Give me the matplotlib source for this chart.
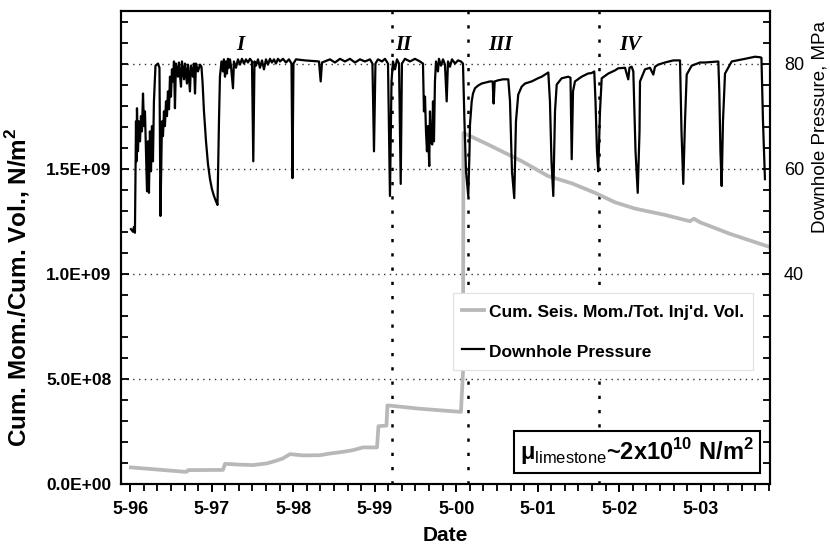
import matplotlib
matplotlib.use("Agg")
import matplotlib.pyplot as plt
from matplotlib import font_manager
from matplotlib.ticker import MultipleLocator

# ---------------- data (decimal years) ----------------
press_t = [1996.342, 1996.367, 1996.379, 1996.391, 1996.404, 1996.410, 1996.416, 1996.428, 1996.440, 1996.453,
           1996.465, 1996.477, 1996.490, 1996.502, 1996.514, 1996.526, 1996.539, 1996.551, 1996.563, 1996.575,
           1996.588, 1996.600, 1996.612, 1996.624, 1996.643, 1996.674, 1996.692, 1996.704, 1996.717, 1996.723,
           1996.735, 1996.747, 1996.759, 1996.772, 1996.784, 1996.796, 1996.809, 1996.821, 1996.833, 1996.845,
           1996.858, 1996.870, 1996.882, 1996.894, 1996.919, 1996.931, 1996.956, 1996.968, 1996.993, 1997.005,
           1997.029, 1997.042, 1997.066, 1997.078, 1997.103, 1997.115, 1997.128, 1997.140, 1997.164, 1997.189,
           1997.207, 1997.220, 1997.238, 1997.263, 1997.287, 1997.312, 1997.336, 1997.361, 1997.385, 1997.404,
           1997.422, 1997.434, 1997.453, 1997.471, 1997.483, 1997.496, 1997.508, 1997.520, 1997.532, 1997.545,
           1997.557, 1997.569, 1997.594, 1997.606, 1997.631, 1997.655, 1997.680, 1997.704, 1997.729, 1997.753,
           1997.778, 1997.802, 1997.827, 1997.843, 1997.858, 1997.876, 1997.901, 1997.925, 1997.950, 1997.974,
           1997.999, 1998.023, 1998.048, 1998.072, 1998.097, 1998.121, 1998.146, 1998.171, 1998.207, 1998.244,
           1998.281, 1998.312, 1998.324, 1998.336, 1998.367, 1998.477, 1998.649, 1998.670, 1998.686, 1998.784,
           1998.845, 1998.907, 1998.968, 1999.029, 1999.091, 1999.152, 1999.213, 1999.275, 1999.305, 1999.324,
           1999.342, 1999.373, 1999.422, 1999.459, 1999.496, 1999.520, 1999.539, 1999.557, 1999.582, 1999.606,
           1999.631, 1999.652, 1999.667, 1999.704, 1999.766, 1999.827, 1999.888, 1999.925, 1999.937, 1999.950,
           1999.962, 1999.974, 1999.986, 2000.002, 2000.011, 2000.023, 2000.039, 2000.048, 2000.060, 2000.072,
           2000.085, 2000.109, 2000.121, 2000.146, 2000.171, 2000.195, 2000.216, 2000.232, 2000.256, 2000.281,
           2000.318, 2000.355, 2000.391, 2000.416, 2000.434, 2000.453, 2000.481, 2000.496, 2000.502, 2000.523,
           2000.539, 2000.563, 2000.600, 2000.645, 2000.698, 2000.747, 2000.780, 2000.792, 2000.805, 2000.845,
           2000.907, 2000.972, 2000.993, 2001.017, 2001.045, 2001.066, 2001.094, 2001.136, 2001.177, 2001.259,
           2001.336, 2001.382, 2001.422, 2001.463, 2001.483, 2001.502, 2001.524, 2001.545, 2001.566, 2001.627,
           2001.708, 2001.735, 2001.750, 2001.766, 2001.790, 2001.872, 2001.950, 2001.995, 2002.027, 2002.042,
           2002.060, 2002.076, 2002.097, 2002.118, 2002.199, 2002.281, 2002.321, 2002.404, 2002.444, 2002.459,
           2002.486, 2002.506, 2002.533, 2002.560, 2002.582, 2002.588, 2002.649, 2002.710, 2002.751, 2002.772,
           2002.812, 2002.894, 2002.997, 2003.079, 2003.097, 2003.119, 2003.140, 2003.161, 2003.222, 2003.324,
           2003.385, 2003.549, 2003.561, 2003.575, 2003.590, 2003.606, 2003.631, 2003.713, 2003.876, 2003.999,
           2004.060, 2004.078, 2004.097, 2004.121]
press_p = [48.5, 48.0, 48.9, 47.8, 69.0, 61.4, 71.5, 63.3, 69.0, 65.2,
           70.0, 67.1, 74.3, 68.1, 70.9, 63.3, 55.7, 65.2, 55.4, 67.1,
           59.5, 68.1, 61.4, 72.8, 79.6, 80.0, 79.2, 51.0, 63.3, 69.0,
           66.2, 70.9, 68.1, 72.8, 70.0, 74.7, 71.3, 77.5, 73.7, 78.9,
           76.6, 80.4, 71.5, 80.0, 77.5, 80.2, 75.6, 80.4, 77.0, 80.0,
           76.2, 79.8, 74.7, 79.6, 77.5, 80.0, 74.3, 80.0, 78.5, 79.8,
           79.4, 76.6, 70.9, 65.2, 60.9, 58.0, 56.1, 54.8, 53.8, 53.1,
           69.0, 77.5, 80.4, 78.5, 80.8, 77.5, 80.4, 78.1, 80.9, 79.2,
           80.8, 79.6, 75.3, 80.4, 79.2, 80.8, 79.8, 80.9, 80.0, 80.8,
           80.2, 80.9, 80.4, 61.4, 80.4, 79.6, 80.8, 79.2, 80.6, 78.9,
           80.8, 79.8, 80.9, 80.2, 80.8, 80.0, 80.9, 80.4, 80.9, 80.2,
           80.8, 80.0, 58.2, 80.0, 80.8, 80.6, 80.4, 76.6, 80.2, 80.8,
           80.2, 80.9, 80.4, 80.9, 80.2, 80.8, 80.4, 80.8, 80.0, 63.3,
           80.0, 80.8, 80.4, 80.9, 80.0, 54.8, 76.6, 80.4, 78.9, 80.8,
           80.0, 57.1, 80.0, 80.9, 80.4, 80.9, 80.4, 80.0, 70.9, 73.7,
           67.1, 63.3, 68.1, 60.5, 70.9, 65.2, 64.6, 72.8, 65.2, 76.6,
           80.4, 78.5, 80.9, 79.6, 80.8, 79.8, 72.8, 80.4, 79.4, 80.8,
           80.0, 80.6, 80.4, 80.0, 69.0, 59.5, 54.8, 63.3, 68.4, 72.8,
           74.3, 75.3, 75.8, 76.2, 76.4, 76.6, 76.6, 72.4, 76.6, 76.8,
           77.0, 77.0, 72.8, 59.5, 54.4, 69.0, 74.1, 75.6, 76.2, 76.6,
           77.2, 77.5, 77.9, 78.3, 72.8, 61.4, 54.8, 70.9, 76.0, 77.2,
           77.5, 77.3, 61.8, 74.7, 76.6, 77.5, 78.1, 78.2, 78.5, 72.8,
           63.3, 59.5, 70.9, 77.2, 78.1, 78.7, 79.1, 79.2, 77.0, 79.2,
           79.4, 78.5, 63.3, 55.4, 67.1, 76.6, 78.9, 79.2, 77.9, 79.4,
           79.8, 80.2, 80.6, 80.6, 67.1, 57.1, 69.0, 77.9, 79.6, 80.2,
           80.2, 80.4, 74.7, 63.3, 56.7, 69.0, 78.1, 80.4, 80.9, 81.3,
           81.2, 81.1, 69.0, 58.0]

seis_t = [1996.342, 1997.005, 1997.029, 1997.042, 1997.471, 1997.496, 1997.680, 1997.839, 1998.011, 1998.134,
          1998.207, 1998.293, 1998.453, 1998.661, 1998.784, 1998.944, 1999.066, 1999.189, 1999.361, 1999.379,
          1999.477, 1999.489, 1999.888, 2000.391, 2000.416, 2000.422, 2000.723, 2001.140, 2001.459, 2001.753,
          2002.036, 2002.281, 2002.527, 2002.894, 2003.201, 2003.250, 2003.324, 2003.692, 2004.158]
seis_v = [7.9e7, 5.8e7, 5.9e7, 6.6e7, 6.7e7, 9.6e7, 9.2e7, 9.0e7, 9.8e7, 1.12e8,
          1.22e8, 1.42e8, 1.36e8, 1.37e8, 1.45e8, 1.53e8, 1.61e8, 1.74e8, 1.74e8, 2.75e8,
          2.78e8, 3.74e8, 3.58e8, 3.43e8, 5.3e8, 1.67e9, 1.615e9, 1.535e9, 1.465e9, 1.43e9,
          1.385e9, 1.34e9, 1.31e9, 1.28e9, 1.25e9, 1.262e9, 1.245e9, 1.19e9, 1.13e9]

stage_bounds = [1999.541, 2000.481, 2002.085]
stage_names = ["I", "II", "III", "IV"]
stage_label_t = [1997.68, 1999.68, 2000.87, 2002.465]

xtick_labels = ["5-96", "5-97", "5-98", "5-99", "5-00", "5-01", "5-02", "5-03"]
ytick_vals = [0, 5e8, 1e9, 1.5e9]
ytick_labels = ["0.0E+00", "5.0E+08", "1.0E+09", "1.5E+09"]
rtick_vals = [40, 60, 80]
rtick_labels = ["40", "60", "80"]
grid_vals = [5e8, 1e9, 1.5e9, 2e9]

# ---------------- fonts ----------------
names = {f.name for f in font_manager.fontManager.ttflist}
base = "Liberation Sans" if "Liberation Sans" in names else "DejaVu Sans"
plt.rcParams["font.family"] = [base, "DejaVu Sans"]
plt.rcParams["mathtext.fontset"] = "custom"
plt.rcParams["mathtext.rm"] = base
plt.rcParams["mathtext.bf"] = base + ":bold"

fig = plt.figure(figsize=(8.3, 5.51), dpi=100)
ax = fig.add_axes([121 / 830, 67 / 551, 649 / 830, 473 / 551])
ax.set_xlim(1996.22, 2004.183)
ax.set_ylim(0, 2.25e9)
ax2 = ax.twinx()
ax2.set_ylim(0, 90)

# grid and stage boundaries
for g in grid_vals:
    ax.axhline(g, color="#333333", lw=1.0, ls=(0, (1, 3.2)), zorder=1)
for b in stage_bounds:
    ax.axvline(b, color="black", lw=1.8, ls=(0, (1.3, 4.4)), zorder=1)

l1, = ax.plot(seis_t, seis_v, color="#b8b8b8", lw=2.7, zorder=2)
l2, = ax2.plot(press_t, press_p, color="black", lw=1.6, zorder=3)

# ticks
major_x = [1996.333 + i for i in range(len(xtick_labels))]
ax.set_xticks(major_x)
ax.set_xticklabels(xtick_labels, fontsize=13, fontweight="bold")
ax.xaxis.set_minor_locator(MultipleLocator(1 / 6))
ax.tick_params(axis="x", which="major", direction="out", length=6, width=1.3, pad=6)
ax.tick_params(axis="x", which="minor", direction="out", length=5, width=1.3)

ax.set_yticks(ytick_vals)
ax.set_yticklabels(ytick_labels, fontsize=12.5, fontweight="bold")
ax.yaxis.set_minor_locator(MultipleLocator(1e8))
ax.tick_params(axis="y", which="major", direction="in", length=6, width=1.3, pad=7)
ax.tick_params(axis="y", which="minor", direction="in", length=5, width=1.3)

ax2.set_yticks(rtick_vals)
ax2.set_yticklabels(rtick_labels, fontsize=13)
ax2.yaxis.set_minor_locator(MultipleLocator(4))
ax2.tick_params(axis="y", which="major", direction="in", length=6, width=1.3, pad=10)
ax2.tick_params(axis="y", which="minor", direction="in", length=5, width=1.3)

for a in (ax, ax2):
    for s in a.spines.values():
        s.set_linewidth(1.5)

ax.set_xlabel("Date", fontsize=15, fontweight="bold", labelpad=6)
ax.set_ylabel("Cum. Mom./Cum. Vol., N/m$^{\\mathbf{2}}$", fontsize=17.5, fontweight="bold")
ax.yaxis.set_label_coords(-0.137, 0.415)
ax2.set_ylabel("Downhole Pressure, MPa", fontsize=13.5)
ax2.yaxis.set_label_coords(1.064, 0.755)

# stage labels
for t, n in zip(stage_label_t, stage_names):
    ax.text(t, 2.09e9, n, family="Liberation Serif", style="italic", fontweight="bold",
            fontsize=15, ha="center", va="center", zorder=5)

# legend
leg = ax2.legend([l1, l2], ["Cum. Seis. Mom./Tot. Inj'd. Vol.", "Downhole Pressure"],
                 loc="upper left", bbox_to_anchor=(453 / 830, 1 - 293 / 551),
                 bbox_transform=fig.transFigure, fancybox=False, framealpha=1,
                 edgecolor="#e0e0e0", handlelength=1.3, handletextpad=0.3,
                 handleheight=1.4, borderpad=0.5, borderaxespad=0, labelspacing=1.1,
                 prop={"size": 12.5, "weight": "bold"})
leg.get_frame().set_linewidth(0.8)
leg.set_zorder(10)

# annotation box
ax2.text(637 / 830, 1 - 452 / 551, "μ$_{\\mathrm{limestone}}$~2x10$^{\\mathbf{10}}$ N/m$^{\\mathbf{2}}$",
         transform=fig.transFigure, ha="center", va="center", fontsize=17, fontweight="bold",
         bbox=dict(boxstyle="square,pad=0.25", fc="white", ec="black", lw=1.5), zorder=11)

fig.savefig("out.png", dpi=100)
